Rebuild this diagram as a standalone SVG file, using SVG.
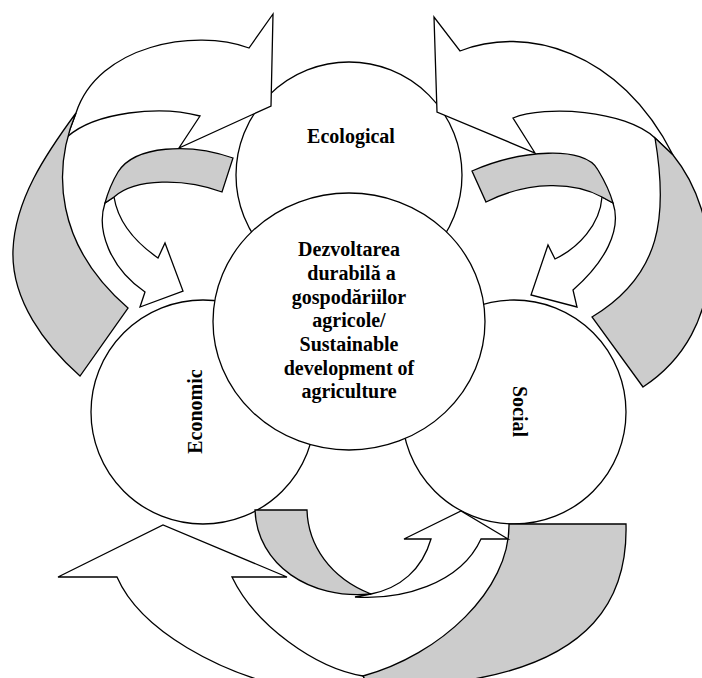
<svg xmlns="http://www.w3.org/2000/svg" width="702" height="678" viewBox="0 0 702 678">
<style>
.n{fill:#fff;stroke:#000;stroke-width:1.3}
.w{fill:#fff;stroke:#000;stroke-width:1.3;stroke-linejoin:miter}
.g{fill:#cccccc;stroke:#000;stroke-width:1.3;stroke-linejoin:miter}
.t{font-family:"Liberation Serif","Times New Roman",serif;font-weight:bold;font-size:20px;fill:#000;text-anchor:middle}
</style>
<rect width="702" height="678" fill="#fff"/>
<g id="node-ecological">
<circle class="n" cx="349" cy="175" r="113"/>
<text class="t" x="351" y="143">Ecological</text>
</g>
<g id="node-economic">
<circle class="n" cx="203" cy="412" r="112"/>
<text class="t" transform="translate(202,411.5) rotate(-90)">Economic</text>
</g>
<g id="node-social">
<circle class="n" cx="514" cy="412" r="112"/>
<text class="t" transform="translate(513,411.5) rotate(90)">Social</text>
</g>
<g id="connectors">
<!-- top-left big arrow -->
<path class="w" d="M249,48 C195,28 98,45 76,113 L67,137 C95,112 160,105 200,116 L179,148 L271,106 L273,14 Z"/>
<path class="g" d="M76,113 C45,155 15,200 13,250 C11,300 45,345 80,376 L128,308 C55,245 52,170 76,113 Z"/>
<!-- top-left middle arrow -->
<path class="w" d="M105,203 C96,230 110,268 145,292 L140,307 L183,291 L165,243 L158,258 C135,242 118,222 114,197 Z"/>
<path class="g" d="M233,158 C190,143 135,145 118,172 C112,182 108,192 105,203 L114,197 C135,178 185,178 222,192 Z"/>
<!-- top-right big arrow -->
<path class="w" d="M460,51 C525,25 620,50 673,155 L655,138 C625,110 545,105 513,118 L535,153 L437,112 L434,17 Z"/>
<path class="g" d="M655,138 L673,155 C722,215 730,330 643,387 L592,317 C662,275 668,215 655,138 Z"/>
<!-- top-right middle arrow -->
<path class="w" d="M613,203 C622,230 605,262 573,290 L577,307 L531,295 L548,245 L555,259 C578,248 600,225 602,197 Z"/>
<path class="g" d="M472,171 C520,150 585,145 598,170 C604,180 610,192 613,203 L602,197 C575,182 530,180 486,202 Z"/>
<!-- bottom big arrow -->
<path class="w" d="M58,577 L163,525 L287,577 L232,577 C255,625 315,668 363,676 L380,705 L300,690 C220,675 140,630 117,577 Z"/>
<path class="g" d="M509,524 L626,524 C628,600 590,660 468,680 L380,705 L363,676 C440,655 510,590 509,524 Z"/>
<!-- bottom small arrow -->
<path class="w" d="M355,597 C400,600 460,585 481,539 L508,539 L461,511 L404,539 L431,539 C422,570 400,588 371,594 Z"/>
<path class="g" d="M255,510 L307,510 C308,545 330,578 371,594 C310,600 257,565 255,510 Z"/>
</g>
<g id="node-center">
<ellipse class="n" cx="349" cy="321.5" rx="136" ry="128.5"/>
<text class="t" x="349" y="256">Dezvoltarea</text>
<text class="t" x="351.5" y="280">durabilă a</text>
<text class="t" x="349" y="303.5">gospodăriilor</text>
<text class="t" x="349" y="327">agricole/</text>
<text class="t" x="349" y="351">Sustainable</text>
<text class="t" x="349" y="374.5">development of</text>
<text class="t" x="349" y="398">agriculture</text>
</g>
</svg>
